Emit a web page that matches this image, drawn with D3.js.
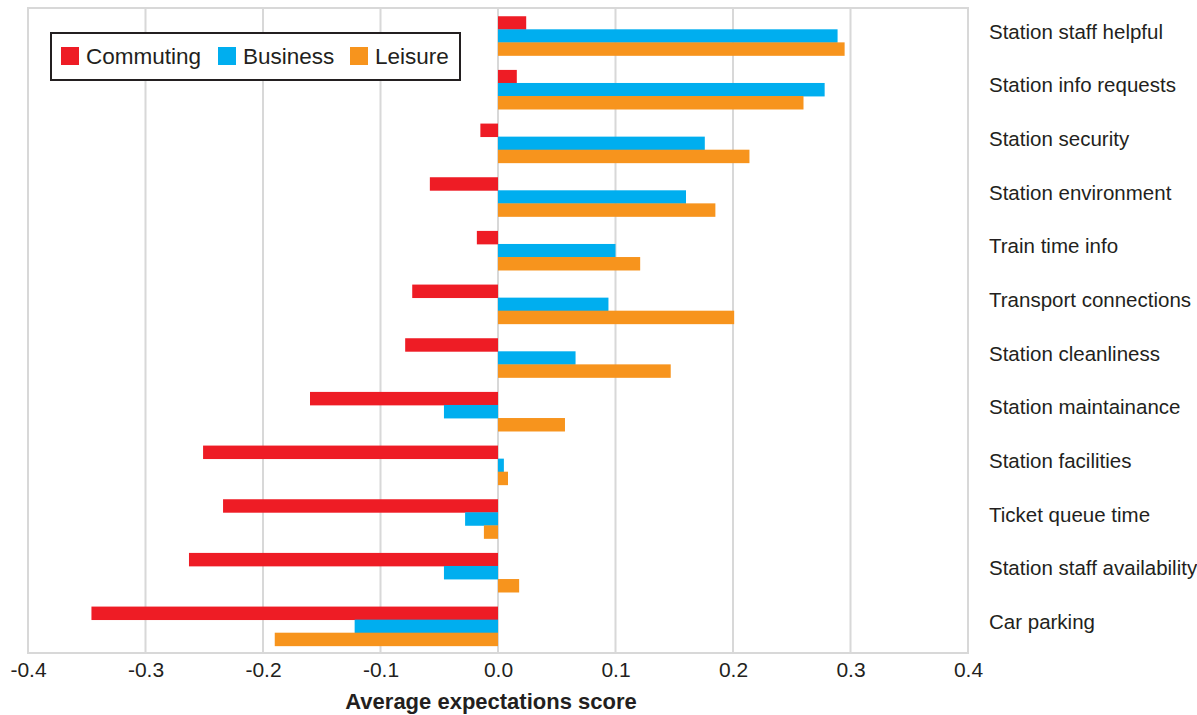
<!DOCTYPE html>
<html>
<head>
<meta charset="utf-8">
<script src="https://cdn.jsdelivr.net/npm/d3@7"></script>
<style>
  html, body { margin: 0; padding: 0; background: #fff; }
  svg text { font-family: "Liberation Sans", Arial, Helvetica, sans-serif; fill: #231f20; }
</style>
</head>
<body>
<svg id="chart" width="1197" height="715"></svg>
<script>
const categories = [
  "Station staff helpful", "Station info requests", "Station security",
  "Station environment", "Train time info", "Transport connections",
  "Station cleanliness", "Station maintainance", "Station facilities",
  "Ticket queue time", "Station staff availability", "Car parking"
];
const seriesNames = ["Commuting", "Business", "Leisure"];
const commuting = [0.024, 0.016, -0.015, -0.058, -0.018, -0.073, -0.079, -0.160, -0.251, -0.234, -0.263, -0.346];
const business  = [0.289, 0.278, 0.176, 0.160, 0.100, 0.094, 0.066, -0.046, 0.005, -0.028, -0.046, -0.122];
const leisure   = [0.295, 0.260, 0.214, 0.185, 0.121, 0.201, 0.147, 0.057, 0.0085, -0.012, 0.018, -0.190];
const xTicks = [-0.4, -0.3, -0.2, -0.1, 0.0, 0.1, 0.2, 0.3, 0.4];
const colors = ["#ee1c25", "#00aeef", "#f7941d"];

const values = [commuting, business, leisure];
const rows = categories.map((c, i) => ({ cat: c, vals: values.map(s => s[i]) }));

const svg = d3.select("#chart");
const plotLeft = 28, plotRight = 968, plotTop = 9, plotBottom = 653;

const x = d3.scaleLinear().domain([-0.4, 0.4]).range([plotLeft, plotRight]);
const y = d3.scaleBand().domain(categories).range([plotTop, plotBottom]).paddingInner(0.27).paddingOuter(0.135);
const ySub = d3.scaleBand().domain(seriesNames).range([0, y.bandwidth()]);

// gridlines and frame
svg.append("g").selectAll("line").data(xTicks).join("line")
  .attr("x1", d => x(d)).attr("x2", d => x(d))
  .attr("y1", plotTop - 1).attr("y2", plotBottom)
  .attr("stroke", "#d8d8d8").attr("stroke-width", 2);
svg.append("rect").attr("x", plotLeft).attr("y", plotTop - 1)
  .attr("width", plotRight - plotLeft).attr("height", plotBottom - plotTop + 1)
  .attr("fill", "none").attr("stroke", "#d8d8d8").attr("stroke-width", 2);

// bars
const groups = svg.append("g").selectAll("g").data(rows).join("g")
  .attr("transform", d => `translate(0,${y(d.cat)})`);
groups.selectAll("rect").data(d => d.vals.map((v, k) => ({ v, k }))).join("rect")
  .attr("x", d => x(Math.min(0, d.v)))
  .attr("width", d => Math.abs(x(d.v) - x(0)))
  .attr("y", d => ySub(seriesNames[d.k]))
  .attr("height", ySub.bandwidth() + 0.4)
  .attr("fill", d => colors[d.k]);

// x axis labels
const xAxis = d3.axisBottom(x).tickValues(xTicks).tickFormat(d => d3.format(".1f")(d).replace("−", "-")).tickSize(0).tickPadding(9);
const gx = svg.append("g").attr("transform", `translate(0,${plotBottom})`).call(xAxis);
gx.select(".domain").remove();
gx.selectAll("text").attr("font-size", 21)
  .style("font-family", "\"Liberation Sans\", Arial, sans-serif").attr("fill", "#231f20");

svg.append("text").attr("x", x(0) - 7).attr("y", 709)
  .attr("text-anchor", "middle").attr("font-size", 22).attr("font-weight", "bold")
  .text("Average expectations score");

// category labels on the right
const yAxis = d3.axisRight(y).tickSize(0).tickPadding(21);
const gy = svg.append("g").attr("transform", `translate(${plotRight},0)`).call(yAxis);
gy.select(".domain").remove();
gy.selectAll("text").attr("font-size", 20.5).attr("dy", "0.13em")
  .style("font-family", "\"Liberation Sans\", Arial, sans-serif").attr("fill", "#231f20");

// legend
const lg = svg.append("g");
lg.append("rect").attr("x", 51).attr("y", 33).attr("width", 409).attr("height", 47)
  .attr("fill", "#fff").attr("stroke", "#231f20").attr("stroke-width", 2);
const legendX = [61, 218, 350];
seriesNames.forEach((s, i) => {
  lg.append("rect").attr("x", legendX[i]).attr("y", 47).attr("width", 18).attr("height", 18).attr("fill", colors[i]);
  lg.append("text").attr("x", legendX[i] + 25).attr("y", 64).attr("font-size", 22.5).text(s);
});
</script>
</body>
</html>
